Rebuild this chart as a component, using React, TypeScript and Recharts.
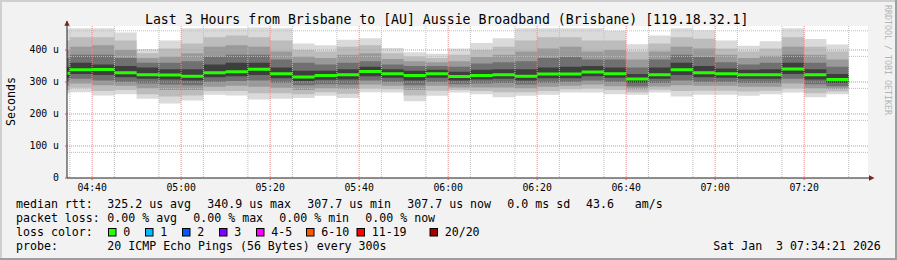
import { ComposedChart, Area, XAxis, YAxis, CartesianGrid } from "recharts";

// 5 minute steps, labelled by the start of each step
const slots = [
  "04:30", "04:35", "04:40", "04:45", "04:50", "04:55",
  "05:00", "05:05", "05:10", "05:15", "05:20", "05:25",
  "05:30", "05:35", "05:40", "05:45", "05:50", "05:55",
  "06:00", "06:05", "06:10", "06:15", "06:20", "06:25",
  "06:30", "06:35", "06:40", "06:45", "06:50", "06:55",
  "07:00", "07:05", "07:10", "07:15", "07:20", "07:25",
];

// smoke bands in microseconds, outer (min..max) to inner
const rttMax = [465, 468, 468, 455, 403, 430, 468, 468, 468, 470, 468, 420, 415, 432, 437, 406, 393, 388, 405, 422, 437, 468, 468, 468, 468, 460, 418, 445, 468, 462, 430, 413, 427, 468, 434, 417];
const rttHi2 = [430, 440, 440, 430, 390, 405, 420, 440, 445, 440, 430, 400, 395, 410, 415, 390, 380, 375, 385, 400, 410, 430, 440, 440, 430, 430, 395, 420, 440, 435, 405, 395, 405, 440, 410, 395];
const rttHi3 = [400, 410, 415, 400, 375, 380, 390, 410, 415, 410, 395, 380, 375, 385, 390, 372, 365, 362, 365, 378, 385, 395, 405, 410, 395, 400, 370, 395, 410, 405, 385, 375, 382, 410, 385, 370];
const rttHi4 = [375, 385, 385, 375, 360, 360, 365, 380, 385, 385, 370, 360, 355, 360, 365, 355, 350, 350, 348, 358, 362, 365, 375, 378, 370, 370, 345, 370, 385, 378, 362, 355, 360, 385, 360, 348];
const rttHi5 = [348, 360, 355, 350, 345, 340, 340, 355, 360, 360, 345, 335, 335, 340, 348, 340, 335, 338, 332, 338, 340, 340, 345, 348, 350, 345, 325, 345, 360, 350, 342, 338, 340, 360, 340, 325];
const median = [327, 338, 339, 329, 323, 322, 318, 329, 332, 340, 326, 316, 320, 323, 333, 326, 320, 326, 317, 320, 323, 318, 325, 325, 331, 326, 309, 323, 338, 329, 326, 323, 323, 341, 323, 308];
const rttLo5 = [313, 325, 322, 315, 310, 308, 305, 315, 318, 322, 312, 303, 307, 308, 318, 313, 305, 313, 305, 308, 310, 305, 312, 312, 318, 313, 298, 310, 322, 315, 313, 310, 310, 325, 308, 297];
const rttLo4 = [300, 310, 305, 300, 295, 292, 290, 300, 303, 305, 298, 290, 293, 292, 305, 300, 290, 300, 293, 295, 297, 292, 298, 300, 305, 300, 287, 297, 305, 300, 300, 297, 297, 310, 293, 287];
const rttLo3 = [288, 295, 290, 288, 280, 275, 275, 285, 288, 285, 282, 275, 280, 278, 292, 288, 275, 288, 283, 283, 283, 280, 285, 288, 292, 287, 277, 286, 290, 288, 288, 285, 285, 295, 280, 278];
const rttLo2 = [275, 282, 272, 275, 262, 255, 258, 272, 272, 265, 265, 262, 268, 263, 280, 277, 258, 273, 275, 272, 268, 268, 272, 277, 280, 275, 268, 276, 272, 273, 273, 270, 273, 280, 265, 270];
const rttMin = [265, 268, 258, 262, 248, 233, 242, 260, 258, 245, 248, 250, 257, 250, 268, 267, 240, 257, 267, 262, 252, 257, 260, 267, 267, 262, 260, 267, 255, 260, 260, 257, 262, 267, 252, 262];

const windowStart = "04:34:21";
const windowEnd = "07:34:21";
const xTicks = ["04:40", "05:00", "05:20", "05:40", "06:00", "06:20", "06:40", "07:00", "07:20"];
const yTicks = [0, 100, 200, 300, 400];

const lossLabels = ["0", "1", "2", "3", "4-5", "6-10", "11-19", "20/20"];
const lossColors = ["#26ff00", "#00b8ff", "#0059ff", "#7e00ff", "#ff00ff", "#ff5500", "#ff0000", "#a10000"];

const FONT = "'DejaVu Sans Mono', monospace";
const Y_MAX = 475;
const PLOT_H = 152;
// median is drawn 3px thick, without risers between steps
const halfLine = (1.5 * Y_MAX) / PLOT_H;

const toMin = (s: string) => {
  const [h, m, sec] = s.split(":").map(Number);
  return h * 60 + m + (sec || 0) / 60;
};
const fmt = (v: number) => {
  const h = Math.floor(v / 60);
  const m = Math.round(v - h * 60);
  return `${String(h).padStart(2, "0")}:${String(m).padStart(2, "0")}`;
};

const bands = [
  { lo: rttMin, hi: rttMax, fill: "#dadada" },
  { lo: rttLo2, hi: rttHi2, fill: "#bcbcbc" },
  { lo: rttLo3, hi: rttHi3, fill: "#999999" },
  { lo: rttLo4, hi: rttHi4, fill: "#707070" },
  { lo: rttLo5, hi: rttHi5, fill: "#3e3e3e" },
];

const rows: any[] = slots.map((s, i) => {
  const row: any = { t: toMin(s), median: median[i] };
  bands.forEach((b, k) => {
    row["b" + k] = [b.lo[i], b.hi[i]];
  });
  return row;
});
// close the last step
rows.push({ ...rows[rows.length - 1], t: rows[rows.length - 1].t + 5 });

const x0 = toMin(windowStart);
const x1 = toMin(windowEnd);
const majorX = xTicks.map(toMin);
const minorX: number[] = [];
for (let v = Math.ceil(x0 / 5) * 5; v < x1; v += 5) if (!majorX.includes(v)) minorX.push(v);
const majorY = [100, 200, 300, 400];
const minorY: number[] = [];
for (let v = 20; v < Y_MAX; v += 20) if (v % 100 !== 0) minorY.push(v);

function Overlay() {
  const legendBoxes = [108.5, 145.5, 182.5, 219.5, 256.5, 306.5, 357, 430];
  const txt = { fontFamily: FONT, fontSize: 11.6, fill: "#000", whiteSpace: "pre" as const };
  return (
    <svg
      width={897}
      height={260}
      style={{ position: "absolute", left: 0, top: 0, pointerEvents: "none" }}
    >
      <rect x={0} y={0} width={897} height={2} fill="#cfcfcf" />
      <rect x={0} y={0} width={2} height={260} fill="#cfcfcf" />
      <rect x={0} y={258} width={897} height={2} fill="#9e9e9e" />
      <rect x={895} y={0} width={2} height={260} fill="#9e9e9e" />

      <text x={446.7} y={24} textAnchor="middle" fontFamily={FONT} fontSize={13.2} fill="#000">
        Last 3 Hours from Brisbane to [AU] Aussie Broadband (Brisbane) [119.18.32.1]
      </text>
      <text
        transform="translate(14.5,101.5) rotate(-90)"
        textAnchor="middle"
        fontFamily={FONT}
        fontSize={11.6}
        fill="#000"
      >
        Seconds
      </text>
      <text transform="translate(884.5,5) rotate(90)" fontFamily={FONT} fontSize={8.3} fill="#b4b4b4">
        RRDTOOL / TOBI OETIKER
      </text>

      <line x1={67} y1={21} x2={67} y2={26} stroke="#1f1f1f" />
      <polygon points="64.3,25.7 69.7,25.7 67,20.5" fill="#801f1f" />
      <line x1={868} y1={178} x2={870} y2={178} stroke="#1f1f1f" />
      <polygon points="869,175.3 869,180.7 874.5,178" fill="#801f1f" />

      <g xmlSpace="preserve">
        <text x={16} y={208} style={txt}>median rtt:</text>
        <text x={107.3} y={208} style={txt}>325.2 us avg</text>
        <text x={207.3} y={208} style={txt}>340.9 us max</text>
        <text x={307.3} y={208} style={txt}>307.7 us min</text>
        <text x={407.3} y={208} style={txt}>307.7 us now</text>
        <text x={507.3} y={208} style={txt}>0.0 ms sd</text>
        <text x={586} y={208} style={txt}>43.6   am/s</text>

        <text x={16} y={222} style={txt}>packet loss:</text>
        <text x={107.3} y={222} style={txt}>0.00 % avg</text>
        <text x={193.3} y={222} style={txt}>0.00 % max</text>
        <text x={279.3} y={222} style={txt}>0.00 % min</text>
        <text x={365.3} y={222} style={txt}>0.00 % now</text>

        <text x={16} y={236} style={txt}>loss color:</text>
        {lossLabels.map((l, i) => (
          <g key={l}>
            <rect
              x={legendBoxes[i]}
              y={228.5}
              width={7.5}
              height={7.5}
              fill={lossColors[i]}
              stroke="#000"
              strokeWidth={1}
            />
            <text x={legendBoxes[i] + 14.7} y={236} style={txt}>
              {l}
            </text>
          </g>
        ))}

        <text x={16} y={250} style={txt}>probe:</text>
        <text x={107.3} y={250} style={txt}>20 ICMP Echo Pings (56 Bytes) every 300s</text>
        <text x={713.3} y={250} style={txt}>Sat Jan  3 07:34:21 2026</text>
      </g>
    </svg>
  );
}

export default function App() {
  const tickStyle = { fontSize: 9.8, fontFamily: FONT, fill: "#000" };
  return (
    <div
      style={{
        position: "absolute",
        left: 0,
        top: 0,
        width: 897,
        height: 260,
        background: "#f2f2f2",
      }}
    >
      <ComposedChart
        width={897}
        height={260}
        data={rows}
        margin={{ top: 26, right: 29, bottom: 52, left: 0 }}
      >
        <CartesianGrid fill="#ffffff" horizontal={false} vertical={false} />
        <XAxis
          type="number"
          dataKey="t"
          domain={[x0, x1]}
          allowDataOverflow
          ticks={majorX}
          tickFormatter={fmt}
          tick={tickStyle}
          tickSize={2}
          tickMargin={4}
          tickLine={{ stroke: "#de4f4f" }}
          axisLine={{ stroke: "#1f1f1f" }}
          height={30}
        />
        <YAxis
          type="number"
          domain={[0, Y_MAX]}
          allowDataOverflow
          ticks={yTicks}
          tickFormatter={(v: number) => (v === 0 ? "0" : `${v} u`)}
          tick={tickStyle}
          tickSize={2}
          tickMargin={6}
          tickLine={{ stroke: "#de4f4f" }}
          axisLine={{ stroke: "#1f1f1f" }}
          width={67}
        />
        {bands.map((b, k) => (
          <Area
            key={k}
            dataKey={"b" + k}
            type="stepAfter"
            stroke="none"
            fill={b.fill}
            fillOpacity={1}
            dot={false}
            activeDot={false}
            isAnimationActive={false}
          />
        ))}
        <CartesianGrid
          horizontalValues={minorY}
          verticalValues={minorX}
          stroke="#bdbdbd"
          strokeDasharray="1 1"
          zIndex={150}
        />
        <CartesianGrid
          horizontalValues={majorY}
          verticalValues={majorX}
          stroke="#e58a8a"
          strokeDasharray="1 1"
          zIndex={151}
        />
        <Area
          dataKey={(d: any) => [d.median - halfLine, d.median + halfLine]}
          type="stepAfter"
          stroke="none"
          fill="#26ff00"
          fillOpacity={1}
          dot={false}
          activeDot={false}
          isAnimationActive={false}
          zIndex={400}
        />
      </ComposedChart>
      <Overlay />
    </div>
  );
}
